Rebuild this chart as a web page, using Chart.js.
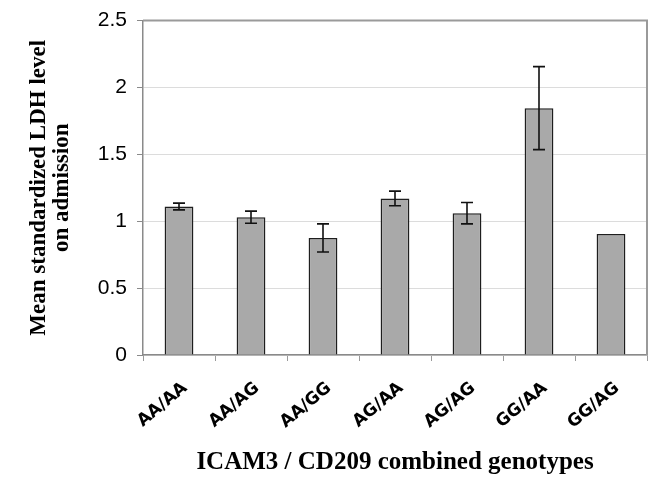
<!DOCTYPE html>
<html>
<head>
<meta charset="utf-8">
<script src="https://cdn.jsdelivr.net/npm/chart.js@4/dist/chart.umd.min.js"></script>
<style>
  html, body { margin: 0; padding: 0; background: #fff; }
  #wrap { width: 654px; height: 498px; position: relative; }
</style>
</head>
<body>
<div id="wrap"><canvas id="chart"></canvas></div>
<script>
const genotypes = ['AA/AA', 'AA/AG', 'AA/GG', 'AG/AA', 'AG/AG', 'GG/AA', 'GG/AG'];
const meanLDH = [1.11, 1.03, 0.875, 1.17, 1.06, 1.845, 0.905];
const errLDH = [0.025, 0.045, 0.105, 0.055, 0.08, 0.31, 0];
const yTicks = [0, 0.5, 1, 1.5, 2, 2.5];

// error bars drawn from the y scale
const errorBars = {
    id: 'errorBars',
    afterDatasetsDraw(chart) {
        const { ctx, scales: { y } } = chart;
        const meta = chart.getDatasetMeta(0);
        ctx.save();
        ctx.strokeStyle = '#111';
        ctx.lineWidth = 1.6;
        meta.data.forEach((bar, i) => {
            const e = errLDH[i];
            if (!e) return;
            const hi = y.getPixelForValue(meanLDH[i] + e);
            const lo = y.getPixelForValue(meanLDH[i] - e);
            const cap = 6;
            ctx.beginPath();
            ctx.moveTo(bar.x, hi); ctx.lineTo(bar.x, lo);
            ctx.moveTo(bar.x - cap, hi); ctx.lineTo(bar.x + cap, hi);
            ctx.moveTo(bar.x - cap, lo); ctx.lineTo(bar.x + cap, lo);
            ctx.stroke();
        });
        ctx.restore();
    }
};

// top and right edges of the plot frame
const frame = {
    id: 'frame',
    beforeDatasetsDraw(chart) {
        const { ctx, chartArea: a } = chart;
        ctx.save();
        ctx.strokeStyle = '#9a9a9a';
        ctx.lineWidth = 2;
        ctx.beginPath();
        ctx.moveTo(a.left, a.top); ctx.lineTo(a.right, a.top); ctx.lineTo(a.right, a.bottom);
        ctx.stroke();
        ctx.restore();
    }
};

const ctx = document.getElementById('chart').getContext('2d');
new Chart(ctx, {
    type: 'bar',
    data: {
        labels: genotypes,
        datasets: [{
            data: meanLDH,
            backgroundColor: '#a9a9a9',
            borderColor: '#1e1e1e',
            borderWidth: 1.5,
            borderSkipped: 'bottom',
            categoryPercentage: 1,
            barPercentage: 0.4
        }]
    },
    options: {
        responsive: true,
        maintainAspectRatio: false,
        animation: false,
        layout: { padding: { top: 17, right: 7, left: 0, bottom: 0 } },
        plugins: {
            legend: { display: false },
            tooltip: { enabled: false }
        },
        scales: {
            x: {
                afterFit: (s) => { s.height = 143; },
                grid: { offset: true, drawOnChartArea: false, drawTicks: true, tickLength: 6, color: '#9a9a9a' },
                border: { color: '#8a8a8a', width: 1.5 },
                ticks: {
                    color: '#000',
                    font: { family: 'DejaVu Sans', weight: 'bold', size: 17 },
                    minRotation: 40,
                    maxRotation: 40,
                    padding: 17,
                    labelOffset: 6
                },
                title: {
                    display: true,
                    text: 'ICAM3 / CD209 combined genotypes',
                    color: '#000',
                    font: { family: 'Liberation Serif', weight: 'bold', size: 25 },
                    padding: { top: 0, bottom: 20 }
                }
            },
            y: {
                min: 0,
                max: 2.5,
                afterFit: (s) => { s.width = 143; },
                afterBuildTicks: (s) => { s.ticks = yTicks.map(v => ({ value: v })); },
                grid: { color: '#dcdcdc', tickColor: '#8a8a8a', tickLength: 6, lineWidth: 1 },
                border: { color: '#8a8a8a', width: 1.5 },
                ticks: {
                    color: '#000',
                    font: { family: 'Liberation Sans', size: 21, lineHeight: 1 },
                    padding: 10,
                    callback: (v) => String(v)
                },
                title: {
                    display: true,
                    text: ['Mean standardized LDH level', 'on admission'],
                    color: '#000',
                    font: { family: 'Liberation Serif', weight: 'bold', size: 23, lineHeight: 1.0 },
                    padding: { top: 28, bottom: 0 }
                }
            }
        }
    },
    plugins: [errorBars, frame]
});
</script>
</body>
</html>
